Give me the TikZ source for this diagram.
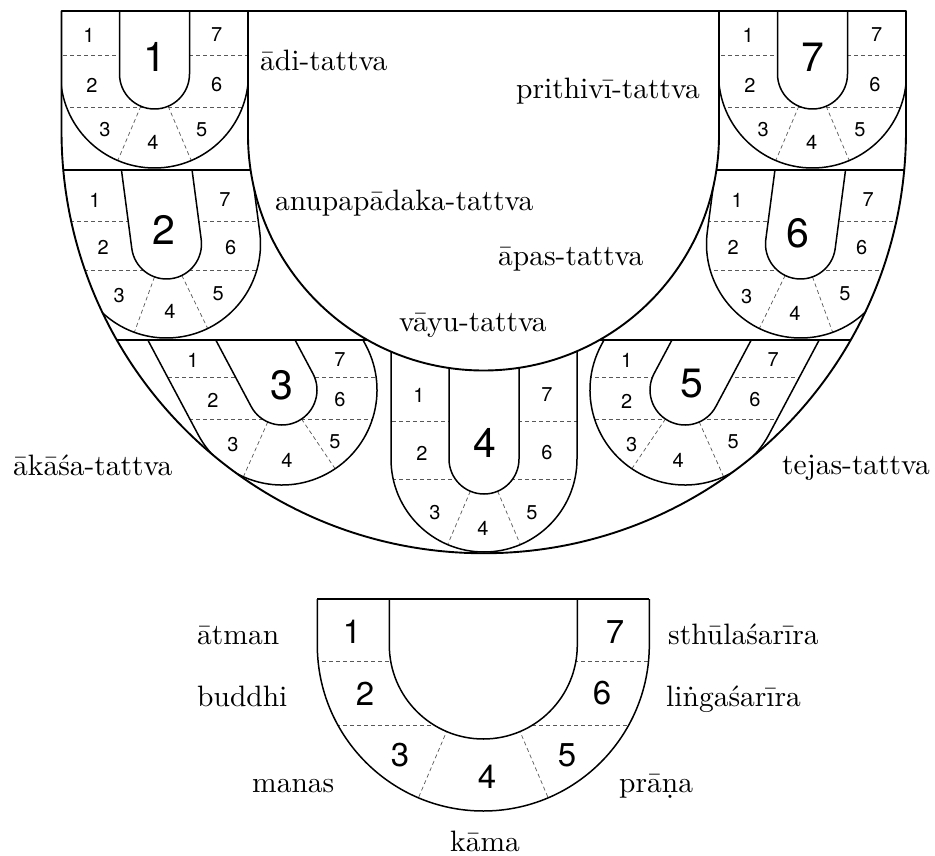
\documentclass[tikz,border=0pt]{standalone}
\usepackage{fontspec}
\newfontfamily\digitfont{TeX Gyre Heros}
\newfontfamily\tagfont{lmroman10-regular.otf}
\tikzset{
  rim/.style     = {line width=1.9pt, line join=round},
  ushape/.style  = {line width=1.5pt},
  divline/.style = {draw=black!65, line width=0.7pt, dash pattern=on 4pt off 3pt},
  tag/.style     = {font={\tagfont\fontsize{29.5}{32}\selectfont}, inner sep=0pt},
  numsm/.style   = {font=\digitfont\fontsize{20}{22}\selectfont, inner sep=0pt},
  numbig/.style  = {font=\digitfont\fontsize{41}{44}\selectfont, inner sep=0pt},
  nummid/.style  = {font=\digitfont\fontsize{33}{36}\selectfont, inner sep=0pt},
}
% the band between the big outer cup and the big inner cup
\newcommand{\ringpath}{(61.5,-11) -- (61.5,-131) arc[start angle=180, end angle=360, radius=422.25]
  -- (906,-11) -- (719,-11) -- (719,-135) arc[start angle=360, end angle=180, radius=235.5] -- (248,-11) -- cycle}
% one seven-part cup: centre x, centre y, tilt, inner r, outer r, radial angles, dash levels
\newcommand{\tattvacup}[9]{%
  \begin{scope}[shift={(#1,#2)}, rotate=#3]
    \clip (-#5,300) -- (-#5,0) arc[start angle=180, end angle=360, radius=#5] -- (#5,300) -- cycle;
    \pgftransformreset
    \draw[divline] (0,#8) -- (935,#8) (0,#9) -- (935,#9);
    \draw[divline] (#1,#2) -- +(#6:#5) (#1,#2) -- +(#7:#5);
  \end{scope}
  \draw[ushape, fill=white, shift={(#1,#2)}, rotate=#3] (-#4,300) -- (-#4,0) arc[start angle=180, end angle=360, radius=#4] -- (#4,300);
  \draw[ushape, shift={(#1,#2)}, rotate=#3] (-#5,300) -- (-#5,0) arc[start angle=180, end angle=360, radius=#5] -- (#5,300);
}

\begin{document}
\begin{tikzpicture}[x=1pt, y=1pt]
  \useasboundingbox (0,0) rectangle (935,-856);

  % cups 1 and 7
  \begin{scope}
    \clip (0,-11) rectangle (935,-170);
    \clip \ringpath;
    \tattvacup{154.5}{-74}{0}{35}{94}{247}{293}{-55.7}{-107}
    \tattvacup{812.5}{-74}{0}{35}{94}{247}{293}{-55.7}{-107}
  \end{scope}
  % cups 2 and 6
  \begin{scope}
    \clip (0,-170) rectangle (935,-340);
    \clip \ringpath;
    \tattvacup{166.5}{-244}{7.5}{35}{94}{250}{296}{-221.7}{-270.5}
    \tattvacup{800.5}{-244}{-7.5}{35}{94}{244}{290}{-221.7}{-270.5}
  \end{scope}
  % cups 3, 4 and 5
  \begin{scope}
    \clip (0,-340) rectangle (935,-860);
    \clip \ringpath;
    \tattvacup{282}{-390}{28}{35}{95}{246}{304}{-377}{-419}
    \tattvacup{484}{-459}{0}{35}{93}{247}{293}{-421}{-479}
    \tattvacup{685}{-390}{-28}{35}{95}{236}{294}{-377}{-419}
  \end{scope}

  % big frame
  \begin{scope}
    \clip \ringpath;
    \draw[rim] (0,-170) -- (935,-170) (0,-340) -- (935,-340);
  \end{scope}
  \draw[rim] (61.5,-11) -- (61.5,-131) arc[start angle=180, end angle=360, radius=422.25] -- (906,-11) -- cycle;
  \draw[rim] (248,-11) -- (248,-135) arc[start angle=180, end angle=360, radius=235.5] -- (719,-11);

  % numbers in the cups
  \foreach \n/\x/\y in {1/89/35, 2/92/85, 3/105/130, 4/153/142, 5/201.7/130, 6/216.7/85, 7/216.7/35}
    \node[numsm] (ca\n) at (\x,-\y) {\n};
  \foreach \n/\x/\y in {1/95/200, 2/103.3/247.3, 3/119.3/296, 4/170/311.7, 5/218.3/293.3, 6/230.7/247.3, 7/225/200}
    \node[numsm] (cb\n) at (\x,-\y) {\n};
  \foreach \n/\x/\y in {1/193/360, 2/213/400, 3/233/445, 4/287/460, 5/335/442, 6/340/400, 7/340/360}
    \node[numsm] (cc\n) at (\x,-\y) {\n};
  \foreach \n/\x/\y in {1/419/395, 2/422/453, 3/435/513, 4/483/528, 5/532/513, 6/547/453, 7/547/395}
    \node[numsm] (cd\n) at (\x,-\y) {\n};
  \foreach \n/\x/\y in {1/626.7/360, 2/626.7/401.7, 3/631.7/445, 4/678.3/460, 5/733.3/441.7, 6/755/400, 7/773.3/360}
    \node[numsm] (ce\n) at (\x,-\y) {\n};
  \foreach \n/\x/\y in {1/737.3/200, 2/733.3/247.3, 3/746.7/296.7, 4/795/313.3, 5/845/294, 6/861.7/247.3, 7/868.3/200}
    \node[numsm] (cf\n) at (\x,-\y) {\n};
  \foreach \n/\x/\y in {1/748.3/35, 2/750/85, 3/763.3/130, 4/811.7/142, 5/860/130, 6/875/85, 7/876.7/35}
    \node[numsm] (cg\n) at (\x,-\y) {\n};

  \node[numbig] (cupa) at (155,-57) {1};
  \node[numbig] (cupb) at (164,-230) {2};
  \node[numbig] (cupc) at (282,-385) {3};
  \node[numbig] (cupd) at (485,-443) {4};
  \node[numbig] (cupe) at (691.7,-383.3) {5};
  \node[numbig] (cupf) at (798.3,-233.3) {6};
  \node[numbig] (cupg) at (813.3,-57) {7};

  % tattva names
  \node[tag, anchor=base west] (adi)   at (260,-71)  {ādi-tattva};
  \node[tag, anchor=base east] (prith) at (700,-99)  {prithivī-tattva};
  \node[tag, anchor=base west] (anu)   at (275,-211) {anupapādaka-tattva};
  \node[tag, anchor=base west] (apas)  at (498,-265) {āpas-tattva};
  \node[tag, anchor=base west] (vayu)  at (399,-331) {vāyu-tattva};
  \node[tag, anchor=base west] (akasa) at (13,-475)  {ākāśa-tattva};
  \node[tag, anchor=base west] (tejas) at (782,-474) {tejas-tattva};

  % the single cup below
  \begin{scope}
    \clip (0,-599.3) rectangle (935,-860);
    \tattvacup{483.3}{-645}{0}{94}{166}{247}{293}{-661.7}{-725}
  \end{scope}
  \draw[rim] (317.3,-599.3) -- (649.3,-599.3);

  \foreach \n/\x/\y in {1/352/632, 2/365/693.3, 3/400/755, 4/487/776.7, 5/567/755, 6/602/693.3, 7/615/632}
    \node[nummid] (p\n) at (\x,-\y) {\n};

  \node[tag, anchor=base west] (atman)  at (197,-644)   {ātman};
  \node[tag, anchor=base west] (buddhi) at (197,-706.7) {buddhi};
  \node[tag, anchor=base west] (manas)  at (252,-792.7) {manas};
  \node[tag, anchor=base west] (kama)   at (450,-851)   {kāma};
  \node[tag, anchor=base west] (prana)  at (619,-792.7) {prāṇa};
  \node[tag, anchor=base west] (linga)  at (666,-706.7) {liṅgaśarīra};
  \node[tag, anchor=base west] (sthula) at (668,-644)   {sthūlaśarīra};
\end{tikzpicture}
\end{document}
